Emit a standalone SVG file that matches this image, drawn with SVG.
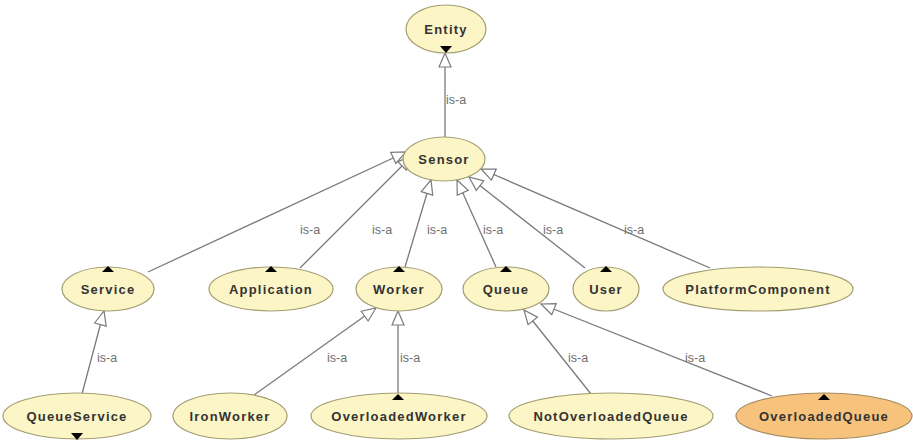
<svg xmlns="http://www.w3.org/2000/svg" width="913" height="441" viewBox="0 0 913 441">
<style>
.n{fill:#fcf5c6;stroke:#a39d72;stroke-width:1.2}
.o{fill:#f7c27c;stroke:#a68a5f;stroke-width:1.2}
.t{font-family:"Liberation Sans",Arial,sans-serif;font-size:13px;font-weight:bold;fill:#333;text-anchor:middle;letter-spacing:1.2px}
.e{stroke:#7a7a7a;stroke-width:1.3;fill:none;marker-end:url(#h)}
.l{font-family:"Liberation Sans",Arial,sans-serif;font-size:12.5px;fill:#707070}
.k{fill:#000}
</style>
<defs>
<marker id="h" markerUnits="userSpaceOnUse" markerWidth="18" markerHeight="16" refX="15" refY="7" orient="auto" viewBox="0 0 18 16">
<path d="M1,1 L15,7 L1,13 z" fill="#fff" stroke="#7a7a7a" stroke-width="1.2"/>
</marker>
</defs>
<rect width="913" height="441" fill="#fff"/>
<g id="connectors">
<line class="e" x1="445" y1="137" x2="445" y2="53"/>
<line class="e" x1="148" y1="272" x2="406" y2="152"/>
<line class="e" x1="300" y1="268" x2="412" y2="156"/>
<line class="e" x1="405" y1="267" x2="431" y2="180"/>
<line class="e" x1="496" y1="267" x2="457" y2="180"/>
<line class="e" x1="585" y1="268" x2="469" y2="177"/>
<line class="e" x1="710" y1="268" x2="481" y2="169"/>
<line class="e" x1="82" y1="394" x2="104" y2="311"/>
<line class="e" x1="254" y1="395" x2="376" y2="308"/>
<line class="e" x1="398" y1="395" x2="398" y2="311"/>
<line class="e" x1="591" y1="394" x2="524" y2="310"/>
<line class="e" x1="772" y1="396" x2="541" y2="304"/>
<text class="l" x="446" y="104">is-a</text>
<text class="l" x="300" y="234">is-a</text>
<text class="l" x="372" y="234">is-a</text>
<text class="l" x="427" y="234">is-a</text>
<text class="l" x="483" y="234">is-a</text>
<text class="l" x="543" y="234">is-a</text>
<text class="l" x="624" y="234">is-a</text>
<text class="l" x="97" y="362">is-a</text>
<text class="l" x="327" y="362">is-a</text>
<text class="l" x="400" y="362">is-a</text>
<text class="l" x="568" y="362">is-a</text>
<text class="l" x="685" y="362">is-a</text>
</g>
<g id="Entity"><ellipse class="n" cx="446" cy="29" rx="40" ry="24"/><text class="t" x="446" y="34">Entity</text><path class="k" d="M440,46 L452,46 L446,53 z"/></g>
<g id="Sensor"><ellipse class="n" cx="444" cy="159" rx="41" ry="22"/><text class="t" x="444" y="164">Sensor</text></g>
<g id="Service"><ellipse class="n" cx="108" cy="289" rx="46" ry="22"/><text class="t" x="108" y="294">Service</text><path class="k" d="M102,272 L114,272 L108,266 z"/></g>
<g id="Application"><ellipse class="n" cx="271" cy="289" rx="62" ry="22"/><text class="t" x="271" y="294">Application</text><path class="k" d="M265,272 L277,272 L271,266 z"/></g>
<g id="Worker"><ellipse class="n" cx="399" cy="289" rx="43" ry="22"/><text class="t" x="399" y="294">Worker</text><path class="k" d="M393,272 L405,272 L399,266 z"/></g>
<g id="Queue"><ellipse class="n" cx="506" cy="289" rx="43" ry="22"/><text class="t" x="506" y="294">Queue</text><path class="k" d="M500,272 L512,272 L506,266 z"/></g>
<g id="User"><ellipse class="n" cx="606" cy="289" rx="33" ry="22"/><text class="t" x="606" y="294">User</text><path class="k" d="M600,272 L612,272 L606,266 z"/></g>
<g id="PlatformComponent"><ellipse class="n" cx="758" cy="289" rx="95" ry="22"/><text class="t" x="758" y="294">PlatformComponent</text></g>
<g id="QueueService"><ellipse class="n" cx="77" cy="416" rx="74" ry="23"/><text class="t" x="77" y="421">QueueService</text><path class="k" d="M71,433 L83,433 L77,440 z"/></g>
<g id="IronWorker"><ellipse class="n" cx="230" cy="416" rx="57" ry="23"/><text class="t" x="230" y="421">IronWorker</text></g>
<g id="OverloadedWorker"><ellipse class="n" cx="399" cy="416" rx="88" ry="23"/><text class="t" x="399" y="421">OverloadedWorker</text><path class="k" d="M392,400 L404,400 L398,394 z"/></g>
<g id="NotOverloadedQueue"><ellipse class="n" cx="611" cy="416" rx="102" ry="23"/><text class="t" x="611" y="421">NotOverloadedQueue</text></g>
<g id="OverloadedQueue"><ellipse class="o" cx="824" cy="416" rx="88" ry="23"/><text class="t" x="824" y="421">OverloadedQueue</text><path class="k" d="M818,400 L830,400 L824,394 z"/></g>
</svg>
